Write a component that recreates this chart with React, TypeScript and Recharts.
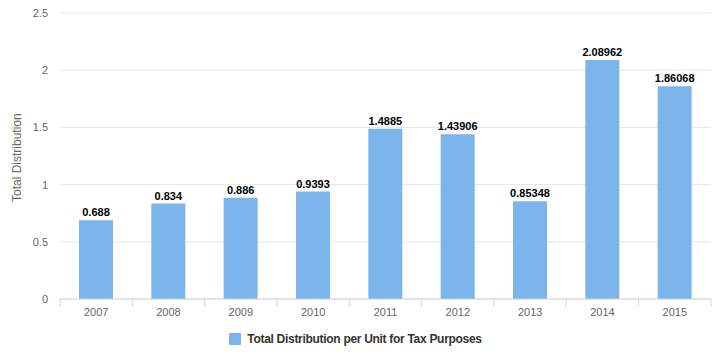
import React from "react";
import { BarChart, Bar, XAxis, YAxis, CartesianGrid, Legend, LabelList } from "recharts";

const years = ["2007", "2008", "2009", "2010", "2011", "2012", "2013", "2014", "2015"];
const distribution = [0.688, 0.834, 0.886, 0.9393, 1.4885, 1.43906, 0.85348, 2.08962, 1.86068];
const yTicks = [0, 0.5, 1, 1.5, 2, 2.5];
const seriesName = "Total Distribution per Unit for Tax Purposes";

const data = years.map((year, i) => ({ year, value: distribution[i] }));

const FONT = '"Liberation Sans", Arial, sans-serif';
const BAR_COLOR = "#7cb5ec";

function XTick(props: any) {
  const { x, y, payload, index, visibleTicksCount } = props;
  const band = 651 / years.length;
  const left = x - band / 2;
  const last = index === (visibleTicksCount ?? years.length) - 1;
  return (
    <g>
      <line x1={left} x2={left} y1={y - 8} y2={y} stroke="#ccd6eb" />
      {last && <line x1={left + band} x2={left + band} y1={y - 8} y2={y} stroke="#ccd6eb" />}
      <text x={x} y={y + 9} textAnchor="middle" fill="#666666" fontSize={11} fontFamily={FONT}>
        {payload.value}
      </text>
    </g>
  );
}

function LegendContent() {
  return (
    <div style={{ display: "flex", justifyContent: "center", alignItems: "center", height: 20 }}>
      <span style={{ width: 12, height: 12, background: BAR_COLOR, display: "inline-block", marginRight: 6 }} />
      <span style={{ fontFamily: FONT, fontSize: 12, fontWeight: "bold", letterSpacing: -0.3, color: "#333333" }}>
        {seriesName}
      </span>
    </div>
  );
}

export default function App() {
  return (
    <div style={{ position: "absolute", left: 0, top: 0, background: "#fff" }}>
      <BarChart width={725} height={357} data={data} margin={{ top: 13, right: 14, left: 0, bottom: 8 }}>
        <CartesianGrid vertical={false} stroke="#e6e6e6" />
        <XAxis
          dataKey="year"
          axisLine={{ stroke: "#ccd6eb" }}
          tickLine={false}
          tick={<XTick />}
          interval={0}
          height={30}
        />
        <YAxis
          domain={[0, 2.5]}
          ticks={yTicks}
          axisLine={false}
          tickLine={false}
          width={60}
          tick={{ fill: "#666666", fontSize: 11, fontFamily: FONT }}
          tickMargin={6}
          label={{
            value: "Total Distribution",
            angle: -90,
            position: "insideLeft",
            dx: 12,
            dy: 46,
            style: { fill: "#666666", fontSize: 12, fontFamily: FONT },
          }}
        />
        <Legend verticalAlign="bottom" content={<LegendContent />} />
        <Bar dataKey="value" name={seriesName} fill={BAR_COLOR} barSize={34} isAnimationActive={false}>
          <LabelList
            dataKey="value"
            position="top"
            offset={4}
            style={{ fill: "#000000", fontSize: 11, fontWeight: "bold", fontFamily: FONT }}
          />
        </Bar>
      </BarChart>
    </div>
  );
}
